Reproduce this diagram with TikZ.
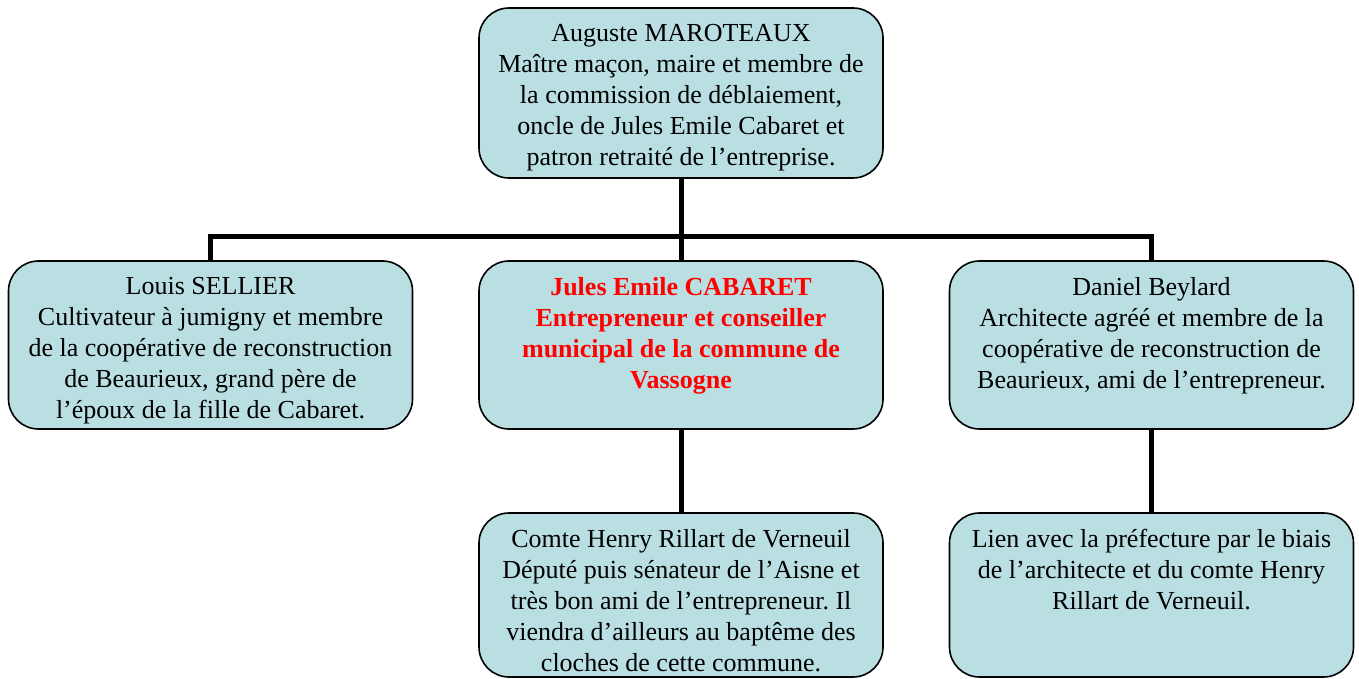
\documentclass[tikz,border=0pt]{standalone}
\usepackage{fontspec}
\setmainfont{Liberation Serif}
\usepackage{xcolor}
\usetikzlibrary{positioning}
\definecolor{boxteal}{RGB}{186,223,227}
\definecolor{namered}{RGB}{255,0,0}
\newcommand{\entrytext}[2]{\parbox[t][#1][t]{196pt}{\vspace*{5pt}\centering\frenchspacing #2}}

\begin{document}
\begin{tikzpicture}[
  x=0.5pt, y=-0.5pt,
  person/.style={draw, thick, rounded corners=15pt, fill=boxteal, inner xsep=3pt, inner ysep=3pt,
    font=\fontsize{13}{15.5}\selectfont},
  link/.style={line width=2.5pt},
]
\useasboundingbox (0,0) rectangle (1359,679);
\node[person] (maroteaux) at (681,93) {\entrytext{79pt}{
  Auguste MAROTEAUX\\
  Maître maçon, maire et membre de\\
  la commission de déblaiement,\\
  oncle de Jules Emile Cabaret et\\
  patron retraité de l’entreprise.}};
\node[person] (sellier) at (210.5,345) {\entrytext{78pt}{
  Louis SELLIER\\
  Cultivateur à jumigny et membre\\
  de la coopérative de reconstruction\\
  de Beaurieux, grand père de\\
  l’époux de la fille de Cabaret.}};
\node[person] (cabaret) at (681,345) {\entrytext{78pt}{\bfseries\color{namered}
  Jules Emile CABARET\\
  Entrepreneur et conseiller\\
  municipal de la commune de\\
  Vassogne}};
\node[person] (beylard) at (1151.5,345) {\entrytext{78pt}{
  Daniel Beylard\\
  Architecte agréé et membre de la\\
  coopérative de reconstruction de\\
  Beaurieux, ami de l’entrepreneur.}};
\node[person] (verneuil) at (681,595) {\entrytext{76pt}{
  Comte Henry Rillart de Verneuil\\
  Député puis sénateur de l’Aisne et\\
  très bon ami de l’entrepreneur. Il\\
  viendra d’ailleurs au baptême des\\
  cloches de cette commune.}};
\node[person] (prefecture) at (1151.5,595) {\entrytext{76pt}{
  Lien avec la préfecture par le biais\\
  de l’architecte et du comte Henry\\
  Rillart de Verneuil.}};
% branches
\coordinate (bus) at (681,237);
\draw[link] (maroteaux.south) -- (bus);
\draw[link] (sellier.north) |- (bus) -| (beylard.north);
\draw[link] (bus) -- (cabaret.north);
\draw[link] (cabaret.south) -- (verneuil.north);
\draw[link] (beylard.south) -- (prefecture.north);
\end{tikzpicture}
\end{document}
